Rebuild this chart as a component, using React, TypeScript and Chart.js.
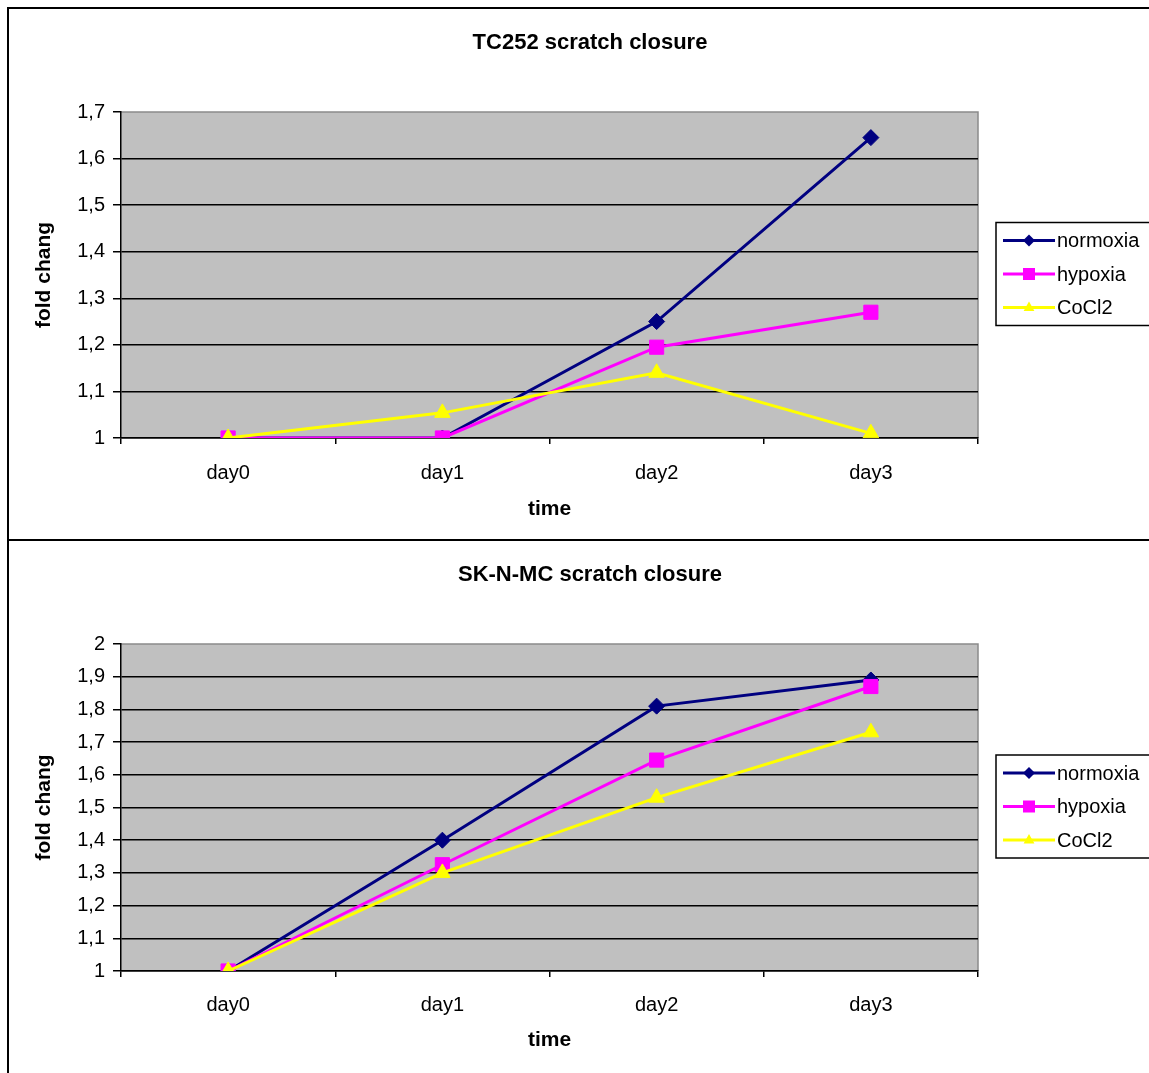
import React, { useEffect, useRef } from 'react';
import { Chart, registerables } from 'chart.js';

Chart.register(...registerables);

// ---------- data ----------
const categories = ['day0', 'day1', 'day2', 'day3'];
const seriesNames = ['normoxia', 'hypoxia', 'CoCl2'];

const tc252Title = 'TC252 scratch closure';
const tc252Normoxia = [1, 1.0, 1.25, 1.645];
const tc252Hypoxia = [1, 1.0, 1.195, 1.27];
const tc252CoCl2 = [1, 1.054, 1.14, 1.01];
const tc252Ticks = [1, 1.1, 1.2, 1.3, 1.4, 1.5, 1.6, 1.7];

const sknmcTitle = 'SK-N-MC scratch closure';
const sknmcNormoxia = [1, 1.4, 1.81, 1.89];
const sknmcHypoxia = [1, 1.325, 1.645, 1.87];
const sknmcCoCl2 = [1, 1.3, 1.53, 1.73];
const sknmcTicks = [1, 1.1, 1.2, 1.3, 1.4, 1.5, 1.6, 1.7, 1.8, 1.9, 2];

const xAxisTitle = 'time';
const yAxisTitle = 'fold chang';

// ---------- styles ----------
const FONT = 'Arial, "Liberation Sans", sans-serif';
const seriesColors = ['#000080', '#FF00FF', '#FFFF00'];
const seriesPoints = ['rectRot', 'rect', 'triangle'];
const seriesRadius = [8, 10, 9];

function fmt(v: number) {
  const n = Number(v);
  if (Math.abs(n - Math.round(n)) < 1e-9) return String(Math.round(n));
  return n.toFixed(1).replace('.', ',');
}

function drawMarker(ctx: CanvasRenderingContext2D, style: string, x: number, y: number, r: number, color: string) {
  ctx.save();
  ctx.fillStyle = color;
  ctx.strokeStyle = color;
  ctx.beginPath();
  if (style === 'rectRot') {
    ctx.moveTo(x, y - r);
    ctx.lineTo(x + r, y);
    ctx.lineTo(x, y + r);
    ctx.lineTo(x - r, y);
  } else if (style === 'rect') {
    ctx.rect(x - r, y - r, 2 * r, 2 * r);
  } else {
    ctx.moveTo(x, y - r);
    ctx.lineTo(x + r * 0.9, y + r * 0.6);
    ctx.lineTo(x - r * 0.9, y + r * 0.6);
  }
  ctx.closePath();
  ctx.fill();
  ctx.restore();
}

const excelPlugin = {
  id: 'excelLook',
  beforeDraw(chart: any) {
    const { ctx, chartArea: a } = chart;
    ctx.save();
    ctx.fillStyle = '#C0C0C0';
    ctx.fillRect(a.left, a.top, a.right - a.left, a.bottom - a.top);
    ctx.strokeStyle = '#8a8a8a';
    ctx.lineWidth = 1.5;
    ctx.beginPath();
    ctx.moveTo(a.left, a.top);
    ctx.lineTo(a.right, a.top);
    ctx.lineTo(a.right, a.bottom);
    ctx.stroke();
    ctx.restore();
  },
  afterDraw(chart: any) {
    const { ctx, chartArea: a } = chart;
    const boxLeft = a.right + 18;
    const boxH = 103;
    const cy = (a.top + a.bottom) / 2 - 1;
    const boxTop = cy - boxH / 2;
    ctx.save();
    ctx.strokeStyle = '#000';
    ctx.lineWidth = 1.5;
    ctx.strokeRect(boxLeft, boxTop, 400, boxH);
    const rowGap = 33.5;
    chart.data.datasets.forEach((ds: any, i: number) => {
      const y = cy + (i - 1) * rowGap;
      ctx.strokeStyle = ds.borderColor;
      ctx.lineWidth = 3;
      ctx.beginPath();
      ctx.moveTo(boxLeft + 7, y);
      ctx.lineTo(boxLeft + 59, y);
      ctx.stroke();
      drawMarker(ctx, seriesPoints[i], boxLeft + 33, y, 6, ds.borderColor);
      ctx.fillStyle = '#000';
      ctx.font = `20px ${FONT}`;
      ctx.textAlign = 'left';
      ctx.textBaseline = 'middle';
      ctx.fillText(ds.label, boxLeft + 61, y + 1);
    });
    ctx.restore();
  },
};

function makeConfig(title: string, values: number[][], ticks: number[], labelPad: number, titlePadBottom: number): any {
  const min = ticks[0];
  const max = ticks[ticks.length - 1];
  return {
    type: 'line',
    data: {
      labels: categories,
      datasets: values.map((vals, i) => ({
        label: seriesNames[i],
        data: vals,
        borderColor: seriesColors[i],
        backgroundColor: seriesColors[i],
        pointBackgroundColor: seriesColors[i],
        pointBorderColor: seriesColors[i],
        pointStyle: seriesPoints[i],
        pointRadius: seriesRadius[i],
        pointBorderWidth: 1,
        borderWidth: 3,
        tension: 0,
        order: 2 - i,
      })),
    },
    options: {
      responsive: false,
      animation: false,
      events: [],
      layout: { padding: { left: 0, right: 0, top: 0, bottom: 0 } },
      plugins: {
        legend: { display: false },
        tooltip: { enabled: false },
        title: {
          display: true,
          text: title,
          color: '#000',
          font: { family: FONT, size: 22, weight: 'bold' },
          padding: { top: 22, bottom: 55.6 },
        },
      },
      scales: {
        x: {
          type: 'category',
          offset: true,
          grid: { offset: true, drawOnChartArea: false, drawTicks: true, tickLength: 6, color: '#000', lineWidth: 1.5 },
          border: { display: true, color: '#000', width: 1.5 },
          ticks: { color: '#000', font: { family: FONT, size: 20 }, padding: labelPad, maxRotation: 0 },
          title: {
            display: true,
            text: xAxisTitle,
            color: '#000',
            font: { family: FONT, size: 21, weight: 'bold' },
            padding: { top: 0, bottom: titlePadBottom },
          },
          afterFit: (s: any) => { s.height = 102; },
        },
        y: {
          type: 'linear',
          min,
          max,
          afterBuildTicks: (s: any) => { s.ticks = ticks.map((value) => ({ value })); },
          grid: {
            color: (c: any) => (c.tick && Math.abs(c.tick.value - max) < 1e-9 ? 'rgba(0,0,0,0)' : '#000'),
            tickColor: '#000',
            tickLength: 8,
            lineWidth: 1.5,
          },
          border: { display: true, color: '#000', width: 1.5 },
          ticks: { color: '#000', font: { family: FONT, size: 20 }, padding: 8, callback: (v: any) => fmt(v) },
          title: {
            display: true,
            text: yAxisTitle,
            color: '#000',
            font: { family: FONT, size: 21, weight: 'bold' },
            padding: { top: 24, bottom: 0 },
          },
          afterFit: (s: any) => { s.width = 113; },
        },
        pad: {
          type: 'linear',
          position: 'right',
          display: true,
          grid: { display: false, drawTicks: false },
          border: { display: false },
          ticks: { display: false },
          afterFit: (s: any) => { s.width = 194; },
        },
      },
    },
    plugins: [excelPlugin],
  };
}

function ChartCanvas(props: { config: () => any; left: number; top: number; width: number; height: number }) {
  const ref = useRef<HTMLCanvasElement | null>(null);
  useEffect(() => {
    if (!ref.current) return;
    const chart = new Chart(ref.current, props.config());
    return () => chart.destroy();
  }, []);
  return (
    <canvas
      ref={ref}
      width={props.width}
      height={props.height}
      style={{ position: 'absolute', left: props.left, top: props.top, width: props.width, height: props.height, display: 'block' }}
    />
  );
}

export default function App() {
  return (
    <div style={{ position: 'fixed', left: 0, top: 0, width: 1149, height: 1073, overflow: 'hidden', background: '#fff' }}>
      <ChartCanvas
        left={8}
        top={8}
        width={1164}
        height={532}
        config={() => makeConfig(tc252Title, [tc252Normoxia, tc252Hypoxia, tc252CoCl2], tc252Ticks, 17, 18.4)}
      />
      <ChartCanvas
        left={8}
        top={540}
        width={1164}
        height={533}
        config={() => makeConfig(sknmcTitle, [sknmcNormoxia, sknmcHypoxia, sknmcCoCl2], sknmcTicks, 16, 20.4)}
      />
      <div style={{ position: 'absolute', left: 7, top: 7, width: 1200, height: 534, border: '2px solid #000', boxSizing: 'border-box', pointerEvents: 'none' }} />
      <div style={{ position: 'absolute', left: 7, top: 539, width: 1200, height: 600, border: '2px solid #000', boxSizing: 'border-box', pointerEvents: 'none' }} />
    </div>
  );
}
